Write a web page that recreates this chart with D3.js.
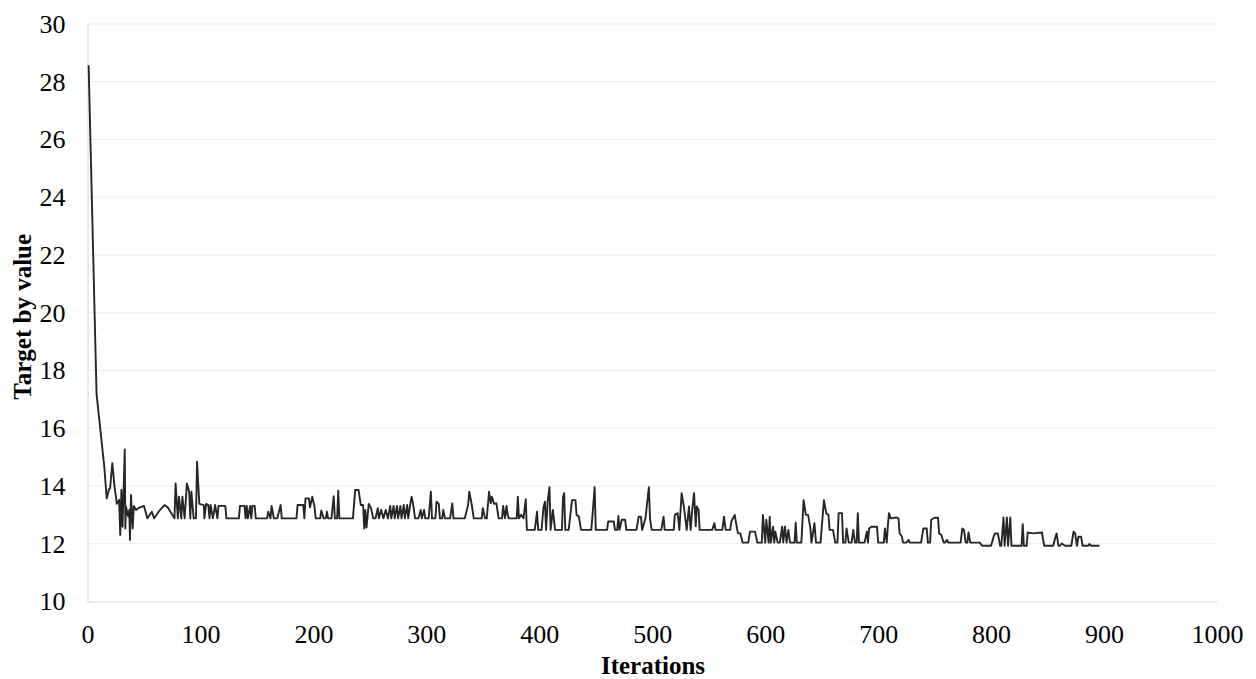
<!DOCTYPE html>
<html><head><meta charset="utf-8">
<script src="https://cdn.jsdelivr.net/npm/d3@7/dist/d3.min.js"></script>
<style>
html,body{margin:0;padding:0;background:#fff;}
svg{display:block;}
svg text{font-family:"Liberation Serif","Times New Roman",serif !important;fill:#000;}
</style></head>
<body>
<svg id="chart" width="1256" height="679"></svg>
<script>
const xTicks = [0,100,200,300,400,500,600,700,800,900,1000];
const yTicks = [10,12,14,16,18,20,22,24,26,28,30];
const xTitle = "Iterations";
const yTitle = "Target by value";
// [iteration, target value]
const series = [
[1,28.57],[8,17.2],[15,14.61],[17,13.57],[19,13.88],[20,13.92],[22,14.79],[24,13.95],[26,13.38],[28,13.52],[29,12.30],[30,13.86],[31,12.59],[33,15.27],[33.5,12.53],[34,13.29],[36,12.94],[37,13.17],[37.6,12.13],[38.5,13.69],[40,12.53],[41,13.31],[43,13.17],[45,13.23],[50,13.31],[53,12.88],[57,13.11],[59,12.88],[63,13.11],[68,13.34],[71,13.26],[77,12.88],[78,14.09],[80,12.88],[81,13.63],[83,12.88],[84,13.63],[86,12.88],[88,14.09],[90,13.80],[91,12.88],[92,13.80],[94,12.88],[96,12.88],[97,14.84],[99,13.38],[103,13.34],[103.5,12.88],[105,13.38],[107,13.34],[108,12.88],[109,13.34],[111,12.88],[113,13.34],[115,12.88],[116,13.31],[122,13.31],[123,12.88],[134,12.88],[135,13.31],[139,13.31],[140,12.88],[141,13.31],[142,12.88],[144,13.31],[145,12.88],[146,13.31],[148,13.31],[149,12.88],[159,12.88],[160,13.11],[162,12.88],[163,13.31],[165,12.88],[168,12.88],[171,13.34],[172,12.88],
[185,12.88],[186,13.34],[191,13.34],[192,12.88],[193,13.57],[196,13.57],[197,13.26],[199,13.63],[201,13.28],[202,12.88],[206,12.88],[207,13.15],[209,12.88],[211,12.88],[212,13.11],[213,12.88],[216,12.88],[218,13.65],[219,12.88],[221,12.88],[222,13.84],[223,12.88],[235,12.88],[237,13.86],[240,13.86],[242,13.34],[244,13.34],[245,12.53],[246,13.17],[247,12.56],[249,13.38],[251,13.23],[253,12.88],[255,12.88],[257,13.23],[258,12.88],[260,13.17],[262,12.88],[264,13.17],[266,12.88],[268,13.31],[269,12.88],[271,13.31],[272,12.88],[274,13.31],[275,12.88],[277,13.31],[278,12.88],[280,13.34],[281,12.88],[283,13.34],[284,12.88],[285.5,13.31],[287,13.63],[288.5,13.31],[290,12.88],[293,12.88],[295,13.17],[296,12.88],[298,13.17],[299,12.88],[302,12.88],[304,13.80],[305,12.88],[308,12.88],[309,13.46],[311,13.38],[312,12.88],[314,12.88],[315,13.17],[316.5,12.88],[321,12.88],[323,13.40],[324,12.88],[334,12.88],[337,13.34],[338,13.80],[340,13.40],[342,12.88],[349,12.88],[350,13.23],[352,12.88],
[353.5,12.88],[355.5,13.80],[357,13.40],[358,13.63],[360,13.38],[362,13.40],[364,12.88],[367,12.88],[368,13.31],[369.6,12.88],[371,13.31],[372,13.00],[373,12.88],[380,12.88],[381,13.63],[382,12.88],[384,13.00],[386,12.88],[388,13.54],[389,12.48],[396,12.48],[398,13.11],[399,12.48],[402,12.48],[403.6,13.23],[405,13.46],[406,12.48],[407.4,13.46],[409,13.96],[410,12.48],[412,13.17],[414,12.48],[420,12.48],[421,13.63],[422,13.75],[423,12.48],[426,12.48],[429,13.51],[432,13.51],[433,13.00],[435,12.94],[437,12.48],[446,12.48],[447,12.94],[449,13.96],[450,12.48],[460,12.48],[461,12.77],[466,12.77],[467,12.48],[469,12.48],[470,12.96],[471,12.48],[473,12.83],[476,12.83],[477,12.48],[486,12.48],[488,12.94],[490,12.94],[491,12.48],[494,12.88],[497,13.96],[498,12.88],[499.5,12.48],[508,12.48],[510,12.94],[511,12.48],[519,12.48],[520,13.00],[522.5,13.06],[524,12.48],[526,13.75],[528,13.29],[530.5,12.48],
[532.5,13.29],[534,12.48],[535.5,13.23],[537,13.75],[538.5,12.61],[539.4,13.29],[541,13.17],[542,12.48],[553,12.48],[555,12.71],[556,12.48],[562,12.48],[563.5,12.94],[565,12.48],[569,12.48],[570,12.77],[573,13.00],[575,12.53],[576,12.36],[578,12.36],[580,12.04],[585,12.04],[586.5,12.42],[591,12.42],[593,12.04],[597,12.04],[598,13.00],[600,12.04],[601,12.83],[603,12.04],[604,12.94],[605,12.04],[607,12.59],[608,12.04],[609,12.42],[611,12.04],[613,12.04],[615,12.59],[616,12.04],[617.5,12.59],[619,12.04],[620.5,12.48],[622,12.04],[626,12.04],[627,12.73],[628,12.04],[632,12.04],[634,13.51],[636,13.00],[638,13.00],[640,12.53],[641,12.04],[643.6,12.71],[645,12.04],[649,12.04],[652,13.51],[654,13.06],[656,13.00],[657,12.48],[660,12.48],[662,12.04],[664,12.04],[665,13.06],[668,13.06],[669,12.04],[671,12.04],[672,12.53],[674,12.04],[676.5,12.04],[678,12.48],[679.5,12.04],[681,12.04],[682,13.06],[683,12.04],[688,12.04],[690,12.42],[691,12.04],[692,12.53],[694,12.59],[699,12.59],[700,12.04],[705,12.04],[706,12.53],[707.6,12.04],
[708.4,12.53],[709.6,13.06],[711,12.88],[716,12.91],[718,12.88],[719,12.36],[721,12.25],[722,12.04],[725,12.04],[727,12.13],[728,12.04],[738,12.04],[740,12.53],[743,12.53],[744,12.04],[746,12.04],[747,12.83],[750,12.90],[753,12.90],[754,12.36],[756,12.30],[758,12.04],[759,12.04],[761,12.13],[762,12.04],[773,12.04],[774.5,12.53],[776,12.48],[777.5,12.04],[779,12.04],[780,12.39],[781.6,12.04],[790,12.04],[792,11.93],[800,11.93],[802,12.22],[803.5,12.36],[806,12.36],[808,11.93],[809,11.93],[811,12.91],[812,11.93],[814,12.91],[815,11.93],[817,12.91],[818,11.93],[827,11.93],[828,12.68],[829,11.93],[831.5,11.93],[832.4,12.39],[837,12.36],[845,12.39],[847,11.93],[855,11.93],[856.6,12.18],[858,12.36],[859.6,11.93],[861,11.93],[862.5,12.01],[865.5,11.93],[871,11.93],[873,12.42],[874.4,12.36],[876,11.93],[877.3,12.24],[879.7,12.24],[881,11.93],[886,11.93],[887,11.99],[888.6,11.93],[896,11.93]
];

const FONT = '"Liberation Serif","Times New Roman",serif';
const svg = d3.select("#chart");
const mLeft = 87.5, mRight = 1217, mTop = 24, mBottom = 601.5;
const x = d3.scaleLinear().domain([0,1000]).range([mLeft,mRight]);
const y = d3.scaleLinear().domain([10,30]).range([mBottom,mTop]);

// gridlines
svg.append("g").selectAll("line").data(yTicks.filter(v=>v>10)).join("line")
  .attr("x1",mLeft).attr("x2",mRight)
  .attr("y1",d=>y(d)).attr("y2",d=>y(d))
  .attr("stroke","#ebebeb").attr("stroke-width",1);

// axes
const xAxis = d3.axisBottom(x).tickValues(xTicks).tickSize(0).tickPadding(23).tickFormat(d3.format("d"));
const gx = svg.append("g").attr("transform",`translate(0,${mBottom})`).call(xAxis)
  .attr("font-family",null).attr("font-size",null);
gx.select(".domain").attr("stroke","#d9d9d9").attr("stroke-width",1.2);
gx.selectAll("text").style("font-size","26px").style("font-family",FONT).attr("fill","#000");

const yAxis = d3.axisLeft(y).tickValues(yTicks).tickSize(0).tickPadding(22).tickFormat(d3.format("d"));
const gy = svg.append("g").attr("transform",`translate(${mLeft},0)`).call(yAxis)
  .attr("font-family",null).attr("font-size",null);
gy.select(".domain").attr("stroke","#d9d9d9").attr("stroke-width",1.2);
gy.selectAll("text").style("font-size","26px").style("font-family",FONT).attr("fill","#000");

// line
const line = d3.line().x(d=>x(d[0])).y(d=>y(d[1]));
svg.append("path").datum(series).attr("d",line)
  .attr("fill","none").attr("stroke","#262626").attr("stroke-width",1.9).attr("stroke-linejoin","round");

// titles
svg.append("text").attr("x",653).attr("y",673.5)
  .attr("text-anchor","middle").style("font-size","25px").style("font-family",FONT).attr("font-weight","bold").text(xTitle);
svg.append("text").attr("transform",`translate(31,${(mTop+mBottom)/2+4}) rotate(-90)`)
  .attr("text-anchor","middle").style("font-size","25px").style("font-family",FONT).attr("font-weight","bold").text(yTitle);
</script>
</body></html>
